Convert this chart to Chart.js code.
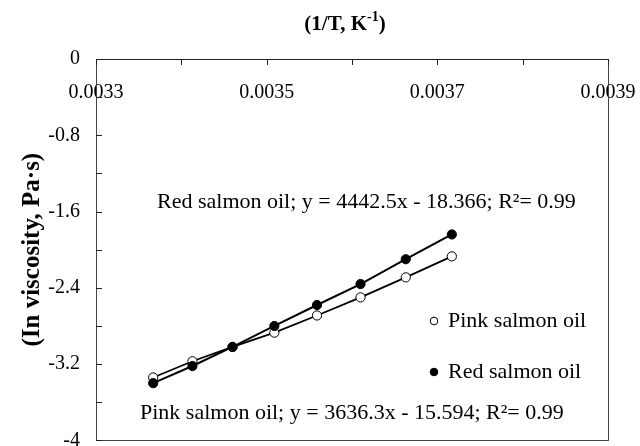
<!DOCTYPE html>
<html><head><meta charset="utf-8">
<script src="https://cdn.jsdelivr.net/npm/chart.js@4.4.1/dist/chart.umd.min.js"></script>
<style>html,body{margin:0;padding:0;background:#fff}#wrap{width:640px;height:446px;position:relative}canvas{display:block}</style>
</head><body><div id="wrap"><canvas id="c" width="640" height="446" style="width:640px;height:446px"></canvas></div>
<script>
// ---- data ----
const invT = [0.003367, 0.003413, 0.00346, 0.003509, 0.003559, 0.00361, 0.003663, 0.003717];
const pinkLnVisc = [-3.34, -3.17, -3.02, -2.87, -2.69, -2.50, -2.29, -2.07];
const redLnVisc  = [-3.40, -3.22, -3.02, -2.80, -2.58, -2.36, -2.10, -1.84];
const seriesNames = ['Pink salmon oil', 'Red salmon oil'];
const xTickLabels = ['0.0033', '0.0035', '0.0037', '0.0039'];
const yTickLabels = ['0', '-0.8', '-1.6', '-2.4', '-3.2', '-4'];
const eqRed  = 'Red salmon oil; y = 4442.5x - 18.366; R\u00B2= 0.99';
const eqPink = 'Pink salmon oil; y = 3636.3x - 15.594; R\u00B2= 0.99';
const xTitleMain = '(1/T, K';
const xTitleSup = '-1';
const yTitle = '(In viscosity, Pa\u00B7s)';

const FONT = "'Liberation Serif', 'Times New Roman', serif";
Chart.defaults.font.family = FONT;
Chart.defaults.color = '#000';

const toPts = (xs, ys) => xs.map((x, i) => ({x: x, y: ys[i]}));

const decorPlugin = {
  id: 'decor',
  afterDraw(chart) {
    const ctx = chart.ctx, ca = chart.chartArea;
    const xs = chart.scales.x, ys = chart.scales.y;
    ctx.save();
    // frame
    ctx.strokeStyle = '#444';
    ctx.lineWidth = 1;
    ctx.strokeRect(Math.round(ca.left) + 0.5, Math.round(ca.top) + 0.5,
      Math.round(ca.right - ca.left), Math.round(ca.bottom - ca.top));
    ctx.strokeStyle = '#222';
    ctx.beginPath();
    ctx.moveTo(ca.left, Math.round(ca.top) + 0.5); ctx.lineTo(ca.right, Math.round(ca.top) + 0.5);
    ctx.stroke();
    // inward tick marks
    ctx.beginPath();
    xs.ticks.forEach(t => {
      const px = Math.round(xs.getPixelForValue(t.value)) + 0.5;
      ctx.moveTo(px, ca.top); ctx.lineTo(px, ca.top + 6);
    });
    ys.ticks.forEach(t => {
      const py = Math.round(ys.getPixelForValue(t.value)) + 0.5;
      ctx.moveTo(ca.left, py); ctx.lineTo(ca.left + 6, py);
    });
    ctx.stroke();
    // top title with superscript
    ctx.fillStyle = '#000';
    ctx.textBaseline = 'alphabetic';
    const f1 = "bold 21px " + FONT, f2 = "bold 14px " + FONT;
    ctx.font = f1; const w1 = ctx.measureText(xTitleMain).width; const w3 = ctx.measureText(')').width;
    ctx.font = f2; const w2 = ctx.measureText(xTitleSup).width;
    let x0 = 345 - (w1 + w2 + w3) / 2;
    const by = 30;
    ctx.font = f1; ctx.textAlign = 'left'; ctx.fillText(xTitleMain, x0, by);
    ctx.font = f2; ctx.fillText(xTitleSup, x0 + w1, by - 9);
    ctx.font = f1; ctx.fillText(')', x0 + w1 + w2, by);
    // equations
    ctx.font = "22px " + FONT;
    ctx.fillText(eqRed, 157, 208);
    ctx.fillText(eqPink, 140, 419);
    // legend
    const leg = [
      {y: 321, fill: '#fff', name: seriesNames[0]},
      {y: 372, fill: '#000', name: seriesNames[1]}
    ];
    leg.forEach(l => {
      ctx.beginPath();
      ctx.arc(434, l.y, 3.8, 0, Math.PI * 2);
      ctx.fillStyle = l.fill; ctx.fill();
      ctx.strokeStyle = '#000'; ctx.lineWidth = 1; ctx.stroke();
      ctx.fillStyle = '#000';
      ctx.font = "22px " + FONT;
      ctx.textBaseline = 'middle';
      ctx.fillText(l.name, 448, l.y);
    });
    ctx.restore();
  }
};

new Chart(document.getElementById('c'), {
  type: 'scatter',
  data: {
    datasets: [
      {
        label: seriesNames[1], data: toPts(invT, redLnVisc), showLine: true,
        borderColor: '#000', borderWidth: 2, pointRadius: 4.6, pointHoverRadius: 4.6,
        pointBackgroundColor: '#000', pointBorderColor: '#000', pointBorderWidth: 1
      },
      {
        label: seriesNames[0], data: toPts(invT, pinkLnVisc), showLine: true,
        borderColor: '#000', borderWidth: 1.8, pointRadius: 4.6, pointHoverRadius: 4.6,
        pointBackgroundColor: '#fff', pointBorderColor: '#000', pointBorderWidth: 1
      }
    ]
  },
  options: {
    responsive: false, animation: false, devicePixelRatio: 1,
    layout: {padding: {top: 59, right: 32, bottom: 5, left: 0}},
    plugins: {legend: {display: false}, tooltip: {enabled: false}, title: {display: false}},
    scales: {
      x: {
        type: 'linear', min: 0.0033, max: 0.0039, position: {y: 0},
        border: {display: false}, grid: {display: false, drawTicks: false},
        ticks: {
          stepSize: 0.0001, padding: 22, autoSkip: false, maxRotation: 0,
          font: {size: 20}, color: '#000',
          callback: v => {
            const n = Math.round(v * 10000);
            return (n % 2 === 1) ? xTickLabels[(n - 33) / 2] : '';
          }
        },
        afterFit: s => { s.paddingLeft = 0; s.paddingRight = 0; s.paddingTop = 0; s.paddingBottom = 0; }
      },
      y: {
        type: 'linear', min: -4, max: 0, position: 'left',
        border: {display: false}, grid: {display: false, drawTicks: false},
        ticks: {
          stepSize: 0.4, padding: 16, autoSkip: false, font: {size: 20}, color: '#000',
          callback: v => {
            const k = Math.round(v * 10);
            return (k % 8 === 0) ? yTickLabels[Math.round(-k / 8)] : '';
          }
        },
        title: {display: true, text: yTitle, font: {size: 25, weight: 'bold'}, color: '#000', padding: {top: 18, bottom: 0}},
        afterFit: s => { s.width = 96; s.paddingTop = 0; s.paddingBottom = 0; s.paddingLeft = 0; s.paddingRight = 0; }
      }
    }
  },
  plugins: [decorPlugin]
});
</script></body></html>
